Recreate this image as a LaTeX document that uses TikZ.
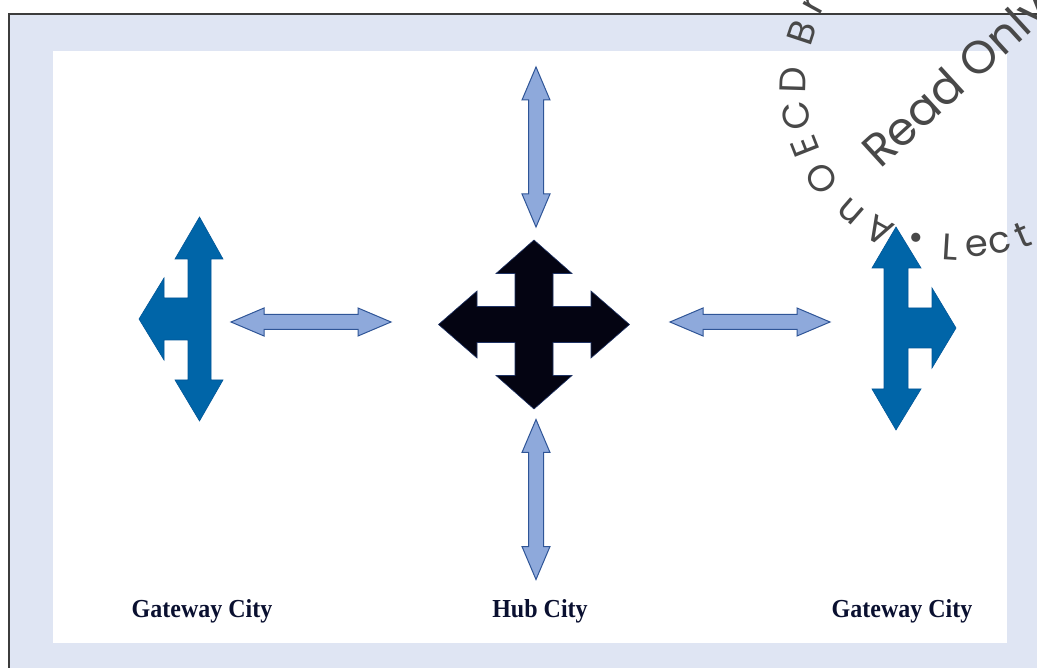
\documentclass[tikz,border=0pt]{standalone}
\usepackage{fontspec}
\setmainfont{Liberation Serif}
\newfontfamily\wmfont{Poppins}
\usetikzlibrary{calc}
\definecolor{bgblue}{RGB}{223,229,243}
\definecolor{framegray}{RGB}{60,60,60}
\definecolor{gateblue}{RGB}{0,101,168}
\definecolor{gateedge}{RGB}{0,86,152}
\definecolor{hubfill}{RGB}{4,4,18}
\definecolor{hubedge}{RGB}{30,50,100}
\definecolor{linkfill}{RGB}{142,169,219}
\definecolor{linkedge}{RGB}{47,85,151}
\definecolor{labelnavy}{RGB}{10,16,48}
\definecolor{wmgray}{RGB}{72,72,72}
\tikzset{
  gateway/.style={fill=gateblue, draw=gateedge, line width=0.6pt, line join=miter},
  hub/.style={fill=hubfill, draw=hubedge, line width=0.6pt, line join=miter},
  linkarrow/.style={fill=linkfill, draw=linkedge, line width=1pt, line join=miter},
  citylabel/.style={font=\bfseries\fontsize{24}{28}\selectfont, text=labelnavy, anchor=base, inner sep=0pt, yscale=1.08},
  wmletter/.style={font=\wmfont\fontsize{37}{40}\selectfont, text=wmgray, inner sep=0pt},
  wmbig/.style={font=\wmfont\fontsize{46}{50}\selectfont, text=wmgray, inner sep=0pt},
  pics/dblarrow/.style={code={
    \path[linkarrow] (-80,0) -- (-47,-14) -- (-47,-7.5) -- (47,-7.5) -- (47,-14) -- (80,0)
      -- (47,14) -- (47,7.5) -- (-47,7.5) -- (-47,14) -- cycle;
  }}
}
\begin{document}
\begin{tikzpicture}[x=1pt,y=-1pt]
\useasboundingbox (0,0) rectangle (1037,668);
\clip (0,0) rectangle (1037,668);
\fill[white] (0,0) rectangle (1037,668);
% frame and panel
\draw[fill=bgblue, draw=framegray, line width=2pt] (9.3,13.7) rectangle (1050,690);
\fill[white] (52.7,50.7) rectangle (1006.7,642.7);

% left gateway city
\path[gateway] (199.5,217) -- (223,259) -- (211,259) -- (211,380) -- (223,380) -- (199.5,421)
  -- (175,380) -- (188,380) -- (188,340) -- (164,340) -- (164,360) -- (139,319) -- (164,278)
  -- (164,298) -- (188,298) -- (188,259) -- (175,259) -- cycle;

% right gateway city
\path[gateway] (896,227) -- (921,268) -- (908,268) -- (908,308) -- (932,308) -- (932,288)
  -- (956,328) -- (932,368) -- (932,348) -- (908,348) -- (908,389) -- (921,389) -- (896,430)
  -- (872,389) -- (884,389) -- (884,268) -- (872,268) -- cycle;

% hub city
\path[hub] (534,240) -- (572,273.5) -- (553,273.5) -- (553,306.5) -- (591,306.5) -- (591,291)
  -- (629.5,324.5) -- (591,358) -- (591,342.5) -- (553,342.5) -- (553,375.5) -- (572,375.5)
  -- (534,409) -- (496,375.5) -- (515,375.5) -- (515,342.5) -- (477,342.5) -- (477,358)
  -- (438.5,324.5) -- (477,291) -- (477,306.5) -- (515,306.5) -- (515,273.5) -- (496,273.5) -- cycle;

% links
\pic at (311,322) {dblarrow};
\pic at (750,322) {dblarrow};
\pic[rotate=90] at (536,147) {dblarrow};
\pic[rotate=90] at (536,499.5) {dblarrow};

% labels
\node[citylabel] (gwleft) at (202,617) {Gateway City};
\node[citylabel] (hublabel) at (540,617) {Hub City};
\node[citylabel] (gwright) at (902,617) {Gateway City};

% watermark
\coordinate (wm) at (960,85);
\foreach \ch/\ang [count=\i] in {A/241, n/229, O/214, E/201.5, C/190.5, D/178.3, B/161.7, r/151.4}
  \node[wmletter, rotate=\ang-90] (wmu\i) at ($(wm)+(-\ang:167)$) {\ch};
\foreach \ch/\ang [count=\i] in {•/253.8, L/266.5, e/276, c/284.2, t/292.8}
  \node[wmletter, rotate=\ang+90] (wml\i) at ($(wm)+(-\ang:162.5)$) {\ch};
\node[wmbig, rotate=42.4] (wmread) at (959,83) {Read Only};
\end{tikzpicture}
\end{document}
